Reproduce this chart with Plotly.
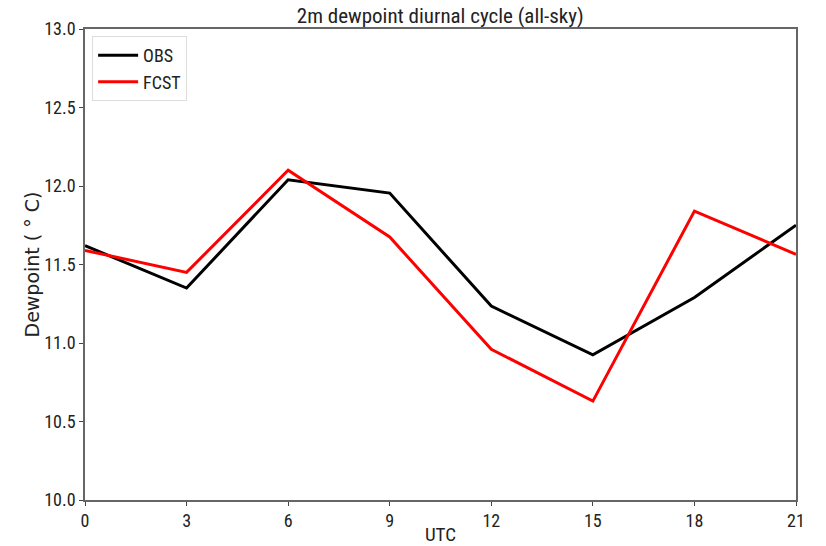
import plotly.graph_objects as go

utc = [0, 3, 6, 9, 12, 15, 18, 21]
obs = [11.62, 11.35, 12.04, 11.955, 11.235, 10.925, 11.29, 11.75]
fcst = [11.59, 11.45, 12.10, 11.675, 10.96, 10.63, 11.84, 11.565]
x_ticks = [0, 3, 6, 9, 12, 15, 18, 21]
y_ticks = [10.0, 10.5, 11.0, 11.5, 12.0, 12.5, 13.0]

font_family = "Liberation Sans Narrow, Roboto Condensed, DejaVu Sans Condensed, Liberation Sans, sans-serif"

fig = go.Figure()
fig.add_trace(go.Scatter(x=utc, y=obs, mode="lines", name="OBS",
                         line=dict(color="black", width=3)))
fig.add_trace(go.Scatter(x=utc, y=fcst, mode="lines", name="FCST",
                         line=dict(color="red", width=3)))

axis_common = dict(showgrid=False, zeroline=False, showline=True, mirror=True,
                   linecolor="#666666", linewidth=1.5, ticks="outside",
                   ticklen=4, tickcolor="#444444", automargin=False,
                   tickfont=dict(size=18, color="#222222", family=font_family))

fig.update_layout(
    width=826, height=546,
    margin=dict(l=85, r=30, t=29, b=46),
    paper_bgcolor="white", plot_bgcolor="white",
    title=dict(text="2m dewpoint diurnal cycle (all-sky)", x=0.533, xanchor="center",
               y=0.972, yanchor="middle", automargin=False,
               font=dict(size=21, color="#222222", family=font_family)),
    xaxis=dict(range=[0, 21], tickvals=x_ticks, ticktext=[str(v) for v in x_ticks],
               title=dict(text="UTC", standoff=2,
                          font=dict(size=19, color="#222222", family=font_family)),
               **axis_common),
    yaxis=dict(range=[10, 13], tickvals=y_ticks, ticktext=[f"{v:.1f}" for v in y_ticks],
               title=dict(text="Dewpoint ( ° C)", standoff=0,
                          font=dict(size=19, color="#222222", family="DejaVu Sans")),
               **axis_common),
    legend=dict(x=0.01, y=0.985, xanchor="left", yanchor="top",
                bgcolor="white", bordercolor="#dddddd", borderwidth=1,
                font=dict(size=18, color="#222222", family=font_family),
                itemwidth=40),
    showlegend=True,
)

fig.write_html("out.html")
